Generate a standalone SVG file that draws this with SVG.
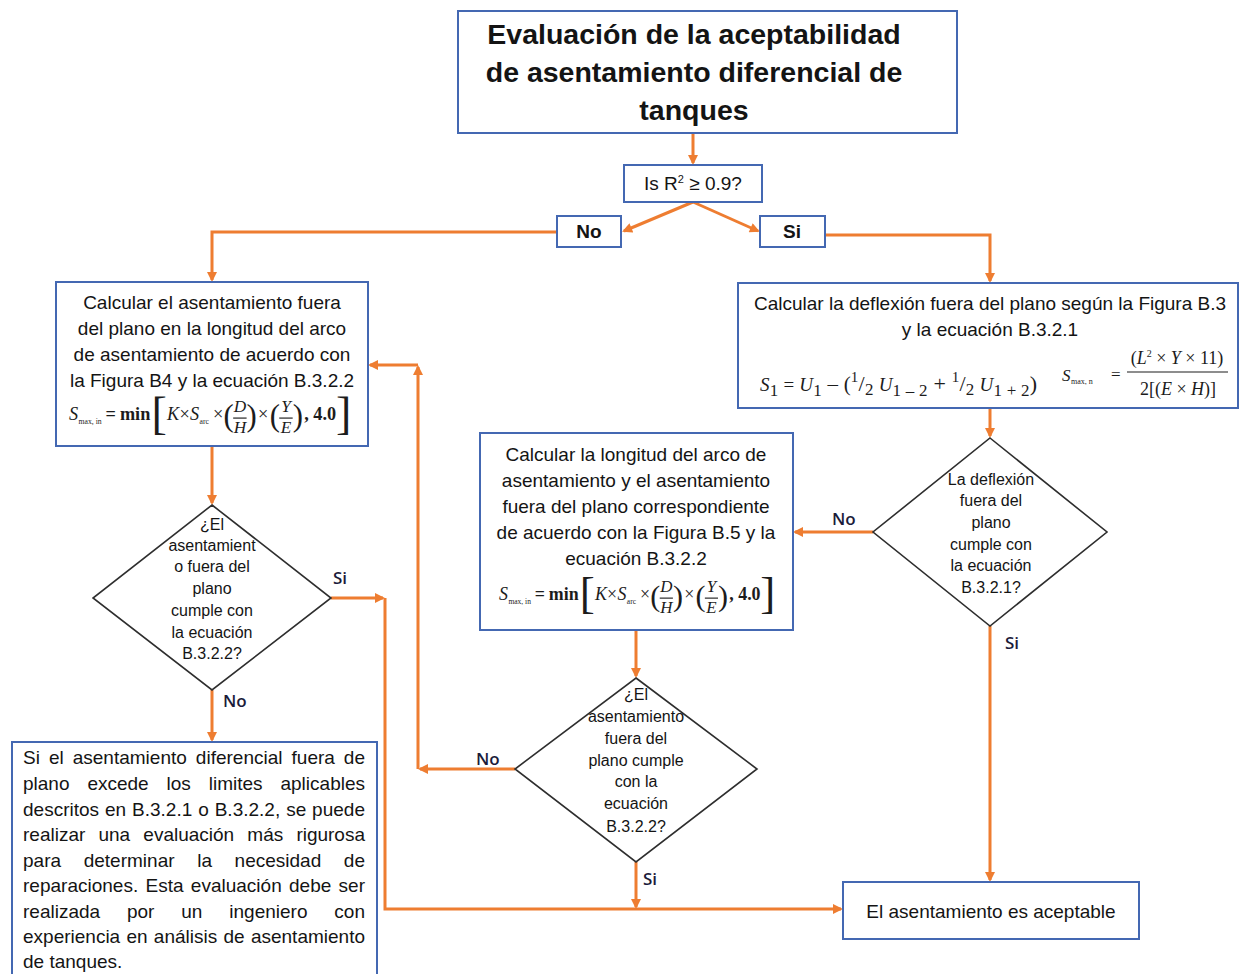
<svg xmlns="http://www.w3.org/2000/svg" xmlns:xlink="http://www.w3.org/1999/xlink" width="1239" height="974" viewBox="0 0 1239 974">
  <style>
    .box { fill: #ffffff; stroke: #4468b2; stroke-width: 2; }
    .dia { fill: #ffffff; stroke: #2e2e2e; stroke-width: 1.6; }
    .c { fill: none; stroke: #ee7d31; stroke-width: 3; }
    .c.a { marker-end: url(#ah); }
    .t { font-family: "Liberation Sans", Arial, sans-serif; font-size: 19px; fill: #141414; text-anchor: middle; }
    .ttl { font-size: 28.5px; font-weight: bold; }
    .b { font-weight: bold; }
    .d { font-size: 16px; }
    .j { text-anchor: start; }
    .lbl { font-family: "Open Sans", "Liberation Sans", sans-serif; font-size: 17px; font-weight: 600; fill: #1b1b3a; }
    .m { font-family: "Liberation Serif", "Times New Roman", serif; fill: #1c1c1c; font-size: 19px; }
    .i { font-style: italic; }
    .bb { font-weight: bold; }
    .s { font-size: 8px; }
    .fl { stroke: #1c1c1c; stroke-width: 1.2; }
  </style>
  <defs>
    <marker id="ah" viewBox="0 0 10 10" refX="8" refY="5" markerWidth="11" markerHeight="10" markerUnits="userSpaceOnUse" orient="auto">
      <path d="M0,0 L10,5 L0,10 z" fill="#ee7d31"/>
    </marker>
    <!-- S_max,in = min[K x S_arc x (D/H) x (Y/E), 4.0], origin on the baseline -->
    <g id="fmin" class="m">
      <text x="0" y="0" class="i">S</text>
      <text x="10" y="4" class="s">max, in</text>
      <text x="38" y="0" class="bb">=</text>
      <text x="53" y="0" class="bb">min</text>
      <text x="86" y="9" font-size="48">[</text>
      <text x="102" y="0" class="i">K</text>
      <text x="115" y="0">×</text>
      <text x="126" y="0" class="i">S</text>
      <text x="136" y="4" class="s">arc</text>
      <text x="150" y="0">×</text>
      <text x="161" y="6" font-size="32">(</text>
      <text x="178" y="-8" class="i" font-size="18" text-anchor="middle">D</text>
      <line x1="171" y1="-2" x2="185" y2="-2" class="fl"/>
      <text x="178" y="14" class="i" font-size="18" text-anchor="middle">H</text>
      <text x="185" y="6" font-size="32">)</text>
      <text x="197" y="0">×</text>
      <text x="209" y="6" font-size="32">(</text>
      <text x="226" y="-8" class="i" font-size="18" text-anchor="middle">Y</text>
      <line x1="219" y1="-2" x2="233" y2="-2" class="fl"/>
      <text x="226" y="14" class="i" font-size="18" text-anchor="middle">E</text>
      <text x="233" y="6" font-size="32">)</text>
      <text x="245" y="0" class="bb">, 4.0</text>
      <text x="278" y="9" font-size="48">]</text>
    </g>
  </defs>

  <rect width="1239" height="974" fill="#ffffff"/>

  <!-- connectors -->
  <g id="connectors">
    <path class="c a" d="M693,133 V163"/>
    <path class="c a" d="M693,202 L624,231"/>
    <path class="c a" d="M693,202 L758,231"/>
    <path class="c a" d="M557,232 H212 V280"/>
    <path class="c a" d="M825,235 H990 V281"/>
    <path class="c a" d="M212,446 V503"/>
    <path class="c a" d="M331,598 H383"/>
    <path class="c a" d="M385,598 V909 H841"/>
    <path class="c a" d="M212,690 V740"/>
    <path class="c a" d="M990,408 V436"/>
    <path class="c a" d="M873,532 H795"/>
    <path class="c a" d="M990,626 V880"/>
    <path class="c a" d="M636,630 V676"/>
    <path class="c a" d="M515,769 H420"/>
    <path class="c a" d="M418,769 V367"/>
    <path class="c a" d="M418,365 H370"/>
    <path class="c a" d="M636,862 V907"/>
  </g>

  <!-- branch labels -->
  <g id="edge-labels" class="lbl">
    <text x="333" y="584">Si</text>
    <text x="223" y="707">No</text>
    <text x="832" y="525">No</text>
    <text x="1005" y="649">Si</text>
    <text x="476" y="765">No</text>
    <text x="643" y="885">Si</text>
  </g>

  <g id="n-title">
    <rect class="box" x="458" y="11" width="499" height="122"/>
    <text class="t ttl" x="694" y="44">Evaluación de la aceptabilidad</text>
    <text class="t ttl" x="694" y="82">de asentamiento diferencial de</text>
    <text class="t ttl" x="694" y="120">tanques</text>
  </g>

  <g id="n-r2">
    <rect class="box" x="624" y="165" width="138" height="37"/>
    <text class="t" x="693" y="190" font-size="17">Is R<tspan font-size="11" dy="-7">2</tspan><tspan dy="7"> ≥ 0.9?</tspan></text>
  </g>

  <g id="n-no">
    <rect class="box" x="557" y="216" width="64" height="31"/>
    <text class="t b" x="589" y="238">No</text>
  </g>

  <g id="n-si">
    <rect class="box" x="760" y="216" width="65" height="31"/>
    <text class="t b" x="792" y="238">Si</text>
  </g>

  <g id="n-arc-b4">
    <rect class="box" x="56" y="282" width="312" height="164"/>
    <text class="t" x="212" y="309">Calcular el asentamiento fuera</text>
    <text class="t" x="212" y="335">del plano en la longitud del arco</text>
    <text class="t" x="212" y="361">de asentamiento de acuerdo con</text>
    <text class="t" x="212" y="387">la Figura B4 y la ecuación B.3.2.2</text>
    <use href="#fmin" xlink:href="#fmin" transform="translate(69,420) scale(0.96)"/>
  </g>

  <g id="n-deflexion">
    <rect class="box" x="738" y="283" width="500" height="125"/>
    <text class="t" x="990" y="310">Calcular la deflexión fuera del plano según la Figura B.3</text>
    <text class="t" x="990" y="336">y la ecuación B.3.2.1</text>
    <text class="m" x="760" y="391" font-size="29" textLength="277" lengthAdjust="spacing"><tspan class="i">S</tspan><tspan font-size="17" dy="5">1</tspan><tspan dy="-5"> = </tspan><tspan class="i">U</tspan><tspan font-size="17" dy="5">1</tspan><tspan font-size="21" dy="-5"> – (</tspan><tspan font-size="15" dy="-9">1</tspan><tspan font-size="22" dy="9">/</tspan><tspan font-size="17" dy="4">2</tspan><tspan dy="-4"> </tspan><tspan class="i">U</tspan><tspan font-size="17" dy="5">1 – 2</tspan><tspan font-size="22" dy="-5"> + </tspan><tspan font-size="15" dy="-9">1</tspan><tspan font-size="22" dy="9">/</tspan><tspan font-size="17" dy="4">2</tspan><tspan dy="-4"> </tspan><tspan class="i">U</tspan><tspan font-size="17" dy="5">1 + 2</tspan><tspan font-size="22" dy="-5">)</tspan></text>
    <g class="m">
      <text x="1062" y="381" class="i" font-size="17">S</text>
      <text x="1071" y="384" class="s">max, n</text>
      <text x="1111" y="380" font-size="17">=</text>
      <text x="1177" y="364" text-anchor="middle" font-size="18">(<tspan class="i">L</tspan><tspan font-size="10" dy="-7">2</tspan><tspan dy="7"> × </tspan><tspan class="i">Y</tspan> × 11)</text>
      <line x1="1127" y1="372" x2="1228" y2="372" class="fl"/>
      <text x="1178" y="395" text-anchor="middle" font-size="18">2[(<tspan class="i">E</tspan> × <tspan class="i">H</tspan>)]</text>
    </g>
  </g>

  <g id="n-arc-b5">
    <rect class="box" x="480" y="433" width="313" height="197"/>
    <text class="t" x="636" y="461">Calcular la longitud del arco de</text>
    <text class="t" x="636" y="487">asentamiento y el asentamiento</text>
    <text class="t" x="636" y="513">fuera del plano correspondiente</text>
    <text class="t" x="636" y="539">de acuerdo con la Figura B.5 y la</text>
    <text class="t" x="636" y="565">ecuación B.3.2.2</text>
    <use href="#fmin" xlink:href="#fmin" transform="translate(499,600) scale(0.94)"/>
  </g>

  <g id="n-check-b4">
    <path class="dia" d="M212,505 L331,598 L212,690 L93,598 Z"/>
    <text class="t d" x="212" y="530">¿El</text>
    <text class="t d" x="212" y="551">asentamient</text>
    <text class="t d" x="212" y="572">o fuera del</text>
    <text class="t d" x="212" y="594">plano</text>
    <text class="t d" x="212" y="616">cumple con</text>
    <text class="t d" x="212" y="638">la ecuación</text>
    <text class="t d" x="212" y="659">B.3.2.2?</text>
  </g>

  <g id="n-check-b3">
    <path class="dia" d="M990,438 L1107,532 L990,626 L873,532 Z"/>
    <text class="t d" x="991" y="485">La deflexión</text>
    <text class="t d" x="991" y="506">fuera del</text>
    <text class="t d" x="991" y="528">plano</text>
    <text class="t d" x="991" y="550">cumple con</text>
    <text class="t d" x="991" y="571">la ecuación</text>
    <text class="t d" x="991" y="593">B.3.2.1?</text>
  </g>

  <g id="n-check-b5">
    <path class="dia" d="M636,678 L757,769 L636,862 L515,769 Z"/>
    <text class="t d" x="636" y="700">¿El</text>
    <text class="t d" x="636" y="722">asentamiento</text>
    <text class="t d" x="636" y="744">fuera del</text>
    <text class="t d" x="636" y="766">plano cumple</text>
    <text class="t d" x="636" y="787">con la</text>
    <text class="t d" x="636" y="809">ecuación</text>
    <text class="t d" x="636" y="832">B.3.2.2?</text>
  </g>

  <g id="n-rigurosa">
    <rect class="box" x="12" y="742" width="365" height="240"/>
    <text class="t j" x="23" y="764" word-spacing="3.7" textLength="342" lengthAdjust="spacing">Si el asentamiento diferencial fuera de</text>
    <text class="t j" x="23" y="790" word-spacing="12.6" textLength="342" lengthAdjust="spacing">plano excede los limites aplicables</text>
    <text class="t j" x="23" y="815.5" word-spacing="0.6" textLength="342" lengthAdjust="spacing">descritos en B.3.2.1 o B.3.2.2, se puede</text>
    <text class="t j" x="23" y="841" word-spacing="7.9" textLength="342" lengthAdjust="spacing">realizar una evaluación más rigurosa</text>
    <text class="t j" x="23" y="866.5" word-spacing="17.3" textLength="342" lengthAdjust="spacing">para determinar la necesidad de</text>
    <text class="t j" x="23" y="892" word-spacing="2" textLength="342" lengthAdjust="spacing">reparaciones. Esta evaluación debe ser</text>
    <text class="t j" x="23" y="917.5" word-spacing="21.6" textLength="342" lengthAdjust="spacing">realizada por un ingeniero con</text>
    <text class="t j" x="23" y="943" word-spacing="1" textLength="342" lengthAdjust="spacing">experiencia en análisis de asentamiento</text>
    <text class="t j" x="23" y="968">de tanques.</text>
  </g>

  <g id="n-aceptable">
    <rect class="box" x="843" y="882" width="296" height="57"/>
    <text class="t" x="991" y="918">El asentamiento es aceptable</text>
  </g>
</svg>
